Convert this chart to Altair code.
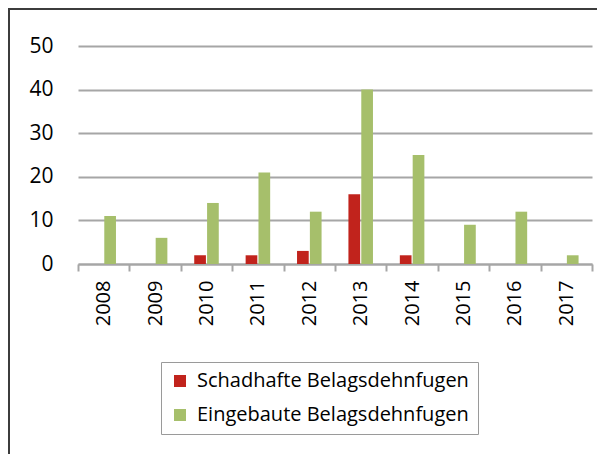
import altair as alt
import pandas as pd

years = ["2008", "2009", "2010", "2011", "2012", "2013", "2014", "2015", "2016", "2017"]
schadhaft = [0, 0, 2, 2, 3, 16, 2, 0, 0, 0]
eingebaut = [11, 6, 14, 21, 12, 40, 25, 9, 12, 2]
series_names = ["Schadhafte Belagsdehnfugen", "Eingebaute Belagsdehnfugen"]
colors = ["#C1231C", "#A6BF6B"]
y_ticks = [0, 10, 20, 30, 40, 50]

rows = []
for i, y in enumerate(years):
    rows.append({"Jahr": y, "Serie": series_names[0], "Wert": schadhaft[i]})
    rows.append({"Jahr": y, "Serie": series_names[1], "Wert": eingebaut[i]})
df = pd.DataFrame(rows)

FONT = "Open Sans"
offset_domain = ["_links"] + series_names + ["_rechts"]

bars = alt.Chart(df).mark_bar().encode(
    x=alt.X("Jahr:N", sort=years,
            scale=alt.Scale(paddingInner=0, paddingOuter=0),
            axis=alt.Axis(title=None, labelAngle=270, labelFontSize=20, labelFont=FONT,
                          labelColor="#000000", tickBand="extent", grid=False,
                          domainColor="#A6A6A6", domainWidth=2, tickColor="#A6A6A6",
                          tickWidth=2, tickSize=7, labelPadding=9)),
    xOffset=alt.XOffset("Serie:N",
                        scale=alt.Scale(domain=offset_domain, paddingInner=0.09,
                                        paddingOuter=0.045)),
    y=alt.Y("Wert:Q", scale=alt.Scale(domain=[0, 50], nice=False),
            axis=alt.Axis(title=None, values=y_ticks, domain=False, ticks=False,
                          labelFontSize=21, labelFont=FONT, labelColor="#000000",
                          labelPadding=25, gridColor="#A6A6A6", gridWidth=2)),
    color=alt.Color("Serie:N", sort=series_names,
                    scale=alt.Scale(domain=series_names, range=colors),
                    legend=alt.Legend(title=None, orient="none", legendX=83, legendY=316,
                                      symbolType="square", symbolSize=144,
                                      symbolStrokeWidth=0, labelFontSize=20,
                                      labelFont=FONT, labelColor="#000000",
                                      labelLimit=0,
                                      rowPadding=14, labelOffset=7, padding=9,
                                      strokeColor="#9A9A9A")),
)

frame = alt.Chart(pd.DataFrame({"a": [0]})).mark_rect(
    fill="transparent", stroke="#3C3C3C", strokeWidth=2
).encode(
    x=alt.value(-69), x2=alt.value(620), y=alt.value(-37), y2=alt.value(600)
)

chart = alt.layer(bars, frame).properties(
    width=514, height=218,
    autosize=alt.AutoSizeParams(type="none"),
    padding={"left": 70, "top": 38, "right": 5, "bottom": 190},
    background="#FFFFFF",
).configure_view(stroke=None)

chart.save("out.html", embed_options={"renderer": "svg", "actions": False})
